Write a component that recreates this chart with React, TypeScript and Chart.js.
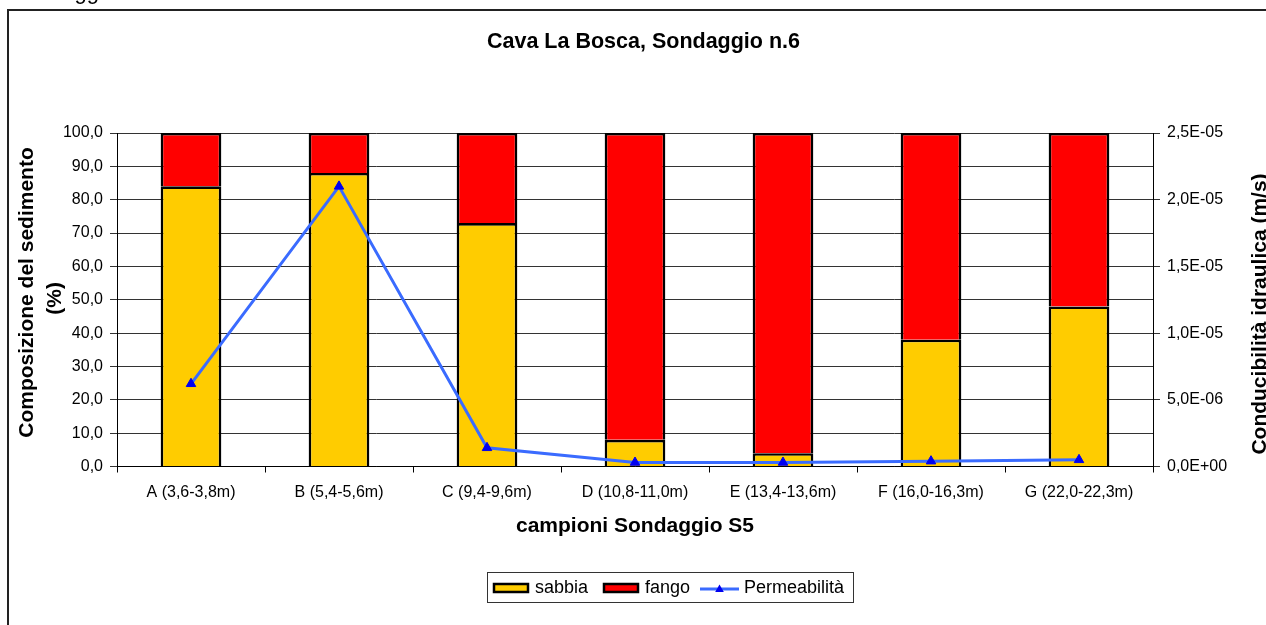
import React, { useEffect, useRef } from 'react';
import { Chart, registerables } from 'chart.js';

Chart.register(...registerables);

const FONT = "'Liberation Sans', Arial, Helvetica, sans-serif";

const categories = [
  'A (3,6-3,8m)',
  'B (5,4-5,6m)',
  'C (9,4-9,6m)',
  'D (10,8-11,0m)',
  'E (13,4-13,6m)',
  'F (16,0-16,3m)',
  'G (22,0-22,3m)',
];
const sabbia = [84, 88, 73, 8, 4, 38, 48];
const fango = [16, 12, 27, 92, 96, 62, 52];
const permeabilita = [6.2e-6, 2.1e-5, 1.4e-6, 3e-7, 3e-7, 4e-7, 5e-7];

const leftTicks = [0, 10, 20, 30, 40, 50, 60, 70, 80, 90, 100];
const rightTicks = [0, 5e-6, 1e-5, 1.5e-5, 2e-5, 2.5e-5];

const chartTitle = 'Cava La Bosca, Sondaggio n.6';
const leftTitle = ['Composizione del sedimento', '(%)'];
const rightTitle = 'Conducibilità idraulica (m/s)';
const xTitle = 'campioni Sondaggio S5';
const topFragment = 'Sondaggio';
const legendLabels = ['sabbia', 'fango', 'Permeabilità'];

function fmtExp(v: number): string {
  if (!v || Math.abs(v) < 1e-15) return '0,0E+00';
  let exp = Math.floor(Math.log10(Math.abs(v)) + 1e-9);
  let mant = v / Math.pow(10, exp);
  mant = Math.round(mant * 10) / 10;
  if (mant >= 10) {
    mant /= 10;
    exp += 1;
  }
  const e = Math.abs(exp).toString().padStart(2, '0');
  return mant.toFixed(1).replace('.', ',') + 'E' + (exp < 0 ? '-' : '+') + e;
}

const overlayPlugin = {
  id: 'overlayTexts',
  afterDraw(chart: any) {
    const ctx = chart.ctx as CanvasRenderingContext2D;
    const ds = chart.data.datasets;
    ctx.save();
    ctx.fillStyle = '#000';
    ctx.textBaseline = 'alphabetic';

    // cut-off fragment at the very top
    ctx.font = `22px ${FONT}`;
    ctx.textAlign = 'left';
    ctx.fillText(topFragment, 11, -1.3);

    // chart title
    ctx.font = `bold 21.5px ${FONT}`;
    ctx.textAlign = 'center';
    ctx.fillText(chartTitle, 643.5, 48.3);

    // left axis title (two lines, bottom-to-top)
    ctx.font = `bold 21px ${FONT}`;
    ctx.save();
    ctx.translate(33.3, 292.5);
    ctx.rotate(-Math.PI / 2);
    ctx.fillText(leftTitle[0], 0, 0);
    ctx.restore();
    ctx.save();
    ctx.translate(61, 298.3);
    ctx.rotate(-Math.PI / 2);
    ctx.fillText(leftTitle[1], 0, 0);
    ctx.restore();

    // right axis title (bottom-to-top)
    ctx.save();
    ctx.translate(1266, 314);
    ctx.rotate(-Math.PI / 2);
    ctx.fillText(rightTitle, 0, 0);
    ctx.restore();

    // legend
    ctx.strokeStyle = '#333';
    ctx.lineWidth = 1;
    ctx.strokeRect(487.5, 572.5, 366, 30);

    ctx.lineWidth = 2.5;
    ctx.strokeStyle = '#000';
    ctx.fillStyle = ds[1].backgroundColor;
    ctx.fillRect(494, 584, 34, 8);
    ctx.strokeRect(494, 584, 34, 8);
    ctx.fillStyle = ds[2].backgroundColor;
    ctx.fillRect(604, 584, 34, 8);
    ctx.strokeRect(604, 584, 34, 8);

    ctx.strokeStyle = ds[0].borderColor;
    ctx.lineWidth = 3;
    ctx.beginPath();
    ctx.moveTo(700, 589);
    ctx.lineTo(739, 589);
    ctx.stroke();
    ctx.fillStyle = ds[0].pointBackgroundColor;
    const r = 5;
    const cx = 719.5;
    const cy = 589.5;
    ctx.beginPath();
    ctx.moveTo(cx, cy - r);
    ctx.lineTo(cx + r * 0.866, cy + r * 0.5);
    ctx.lineTo(cx - r * 0.866, cy + r * 0.5);
    ctx.closePath();
    ctx.fill();

    ctx.fillStyle = '#000';
    ctx.font = `18px ${FONT}`;
    ctx.textAlign = 'left';
    ctx.fillText(legendLabels[0], 535, 593.3);
    ctx.fillText(legendLabels[1], 645, 593.3);
    ctx.fillText(legendLabels[2], 744, 593.3);

    ctx.restore();
  },
};

export default function App() {
  const canvasRef = useRef<HTMLCanvasElement | null>(null);

  useEffect(() => {
    if (!canvasRef.current) return;
    Chart.defaults.font.family = FONT;
    const chart = new Chart(canvasRef.current, {
      type: 'bar',
      data: {
        labels: categories,
        datasets: [
          {
            type: 'line',
            label: legendLabels[2],
            data: permeabilita,
            yAxisID: 'y1',
            borderColor: '#3A6BFF',
            borderWidth: 3,
            pointStyle: 'triangle',
            pointRadius: 5.5,
            pointBorderWidth: 1,
            pointBackgroundColor: '#0000F0',
            pointBorderColor: '#0000F0',
            fill: false,
            tension: 0,
            order: 0,
          } as any,
          {
            type: 'bar',
            label: legendLabels[0],
            data: sabbia,
            yAxisID: 'y',
            backgroundColor: '#FFCC00',
            borderColor: '#000',
            borderWidth: 2.6,
            barPercentage: 0.41,
            categoryPercentage: 1,
            order: 1,
          },
          {
            type: 'bar',
            label: legendLabels[1],
            data: fango,
            yAxisID: 'y',
            backgroundColor: '#FF0000',
            borderColor: '#000',
            borderWidth: 2.6,
            barPercentage: 0.41,
            categoryPercentage: 1,
            order: 1,
          },
        ],
      },
      options: {
        responsive: false,
        animation: false,
        layout: { padding: { top: 133, left: 0, right: 0, bottom: 0 } },
        plugins: {
          legend: { display: false },
          title: { display: false },
          tooltip: { enabled: false },
        },
        scales: {
          x: {
            stacked: true,
            offset: true,
            grid: {
              offset: true,
              drawOnChartArea: false,
              drawTicks: true,
              tickLength: 6,
              color: '#000',
            },
            border: { color: '#000', width: 1 },
            ticks: {
              font: { size: 16 },
              color: '#000',
              padding: 10,
              maxRotation: 0,
              autoSkip: false,
            },
            title: {
              display: true,
              text: xTitle,
              color: '#000',
              font: { size: 21, weight: 'bold' },
              padding: { top: 0, bottom: 86.4 },
            },
            afterFit: (s: any) => {
              s.height = 158.5;
            },
          },
          y: {
            stacked: true,
            position: 'left',
            min: 0,
            max: 100,
            afterBuildTicks: (s: any) => {
              s.ticks = leftTicks.map((v) => ({ value: v }));
            },
            ticks: {
              callback: (v: any) => Number(v).toFixed(1).replace('.', ','),
              font: { size: 16 },
              color: '#000',
              padding: 7,
            },
            grid: { color: '#333', tickLength: 7 },
            border: { color: '#000', width: 1 },
            afterFit: (s: any) => {
              s.width = 117;
            },
          },
          y1: {
            position: 'right',
            min: 0,
            max: 2.5e-5,
            afterBuildTicks: (s: any) => {
              s.ticks = rightTicks.map((v) => ({ value: v }));
            },
            ticks: {
              callback: (v: any) => fmtExp(Number(v)),
              font: { size: 16 },
              color: '#000',
              padding: 7,
            },
            grid: { drawOnChartArea: false, color: '#333', tickLength: 7 },
            border: { color: '#000', width: 1 },
            afterFit: (s: any) => {
              s.width = 113;
            },
          },
        },
      } as any,
      plugins: [overlayPlugin],
    });
    return () => chart.destroy();
  }, []);

  return (
    <div>
      <div
        style={{
          position: 'fixed',
          left: 7,
          top: 9,
          width: 1259,
          height: 616,
          borderLeft: '2px solid #222',
          borderTop: '2px solid #222',
          boxSizing: 'border-box',
        }}
      />
      <canvas
        ref={canvasRef}
        width={1266}
        height={625}
        style={{ position: 'fixed', left: 0, top: 0, width: 1266, height: 625 }}
      />
    </div>
  );
}
